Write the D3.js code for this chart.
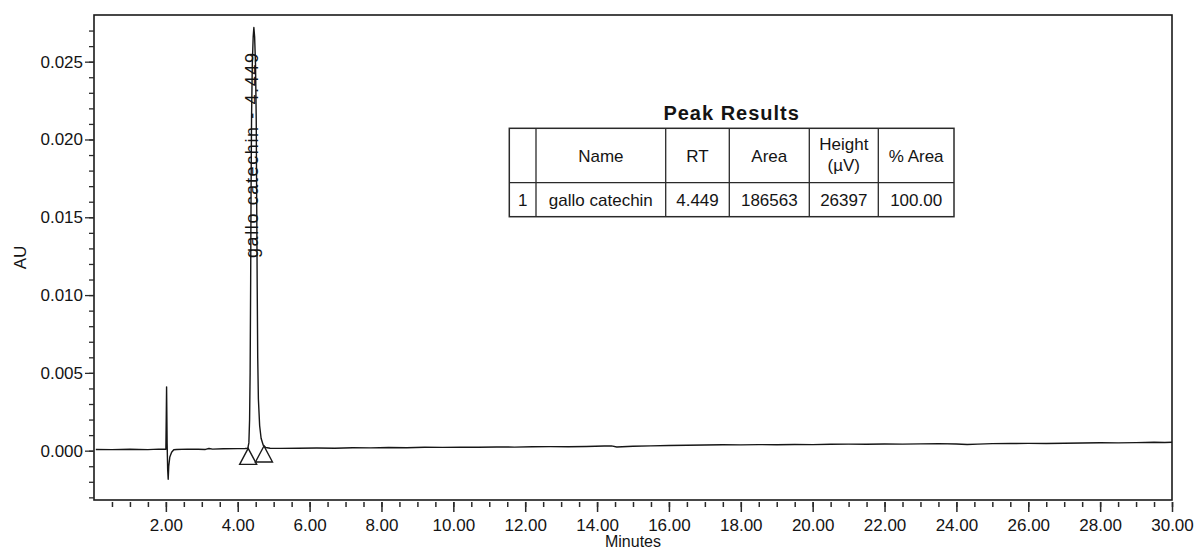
<!DOCTYPE html>
<html>
<head>
<meta charset="utf-8">
<script src="https://cdn.jsdelivr.net/npm/d3@7"></script>
<style>
  html, body { margin: 0; padding: 0; background: #ffffff; }
  svg { display: block; }
  text { font-family: "Liberation Sans", Arial, sans-serif; fill: #141414; }
</style>
</head>
<body>
<svg id="chart" width="1198" height="550"></svg>
<script>
// ---------------- DATA ----------------
// Baseline (minutes, AU)
const baselineTimes = [0.05,0.5,1.0,1.5,1.8,1.95,
  2.3,2.6,2.9,3.1,3.2,3.3,3.6,4.0,4.2,
  4.9,5.2,5.7,6.2,6.7,7.2,7.7,8.2,8.7,9.2,9.7,10.2,10.7,11.2,11.7,12.2,12.7,13.2,13.7,
  14.2,14.4,14.55,14.7,15.0,15.5,16.0,16.5,17.0,17.5,18.0,18.5,19.0,19.5,20.0,20.5,
  21.0,21.5,22.0,22.5,23.0,23.5,24.0,24.3,24.6,25.0,25.5,26.0,26.5,27.0,27.5,28.0,
  28.5,29.0,29.5,29.8,30.0];
const baselineAU = [0.00008,0.00007,0.00009,0.00007,0.00010,0.00009,
  0.00008,0.00010,0.00009,0.00008,0.00014,0.00010,0.00012,0.00013,0.00014,
  0.00016,0.00015,0.00016,0.00017,0.00016,0.00019,0.00018,0.00020,0.00019,0.00022,0.00021,0.00023,0.00022,0.00024,0.00023,0.00025,0.00026,0.00025,0.00027,
  0.00030,0.00031,0.00024,0.00025,0.00028,0.00031,0.00033,0.00035,0.00036,0.00038,0.00037,0.00039,0.00038,0.00040,0.00039,0.00041,
  0.00042,0.00041,0.00043,0.00042,0.00044,0.00045,0.00043,0.00040,0.00042,0.00045,0.00046,0.00047,0.00046,0.00048,0.00049,0.00051,
  0.00050,0.00052,0.00054,0.00053,0.00054];

// Injection disturbance near 2 min
const spikeTimes = [2.00,2.01,2.02,2.035,2.05,2.065,2.08,2.11,2.16,2.22];
const spikeAU    = [0.00009,0.0020,0.0041,0.0005,-0.0012,-0.00184,-0.0010,-0.0004,-0.0001,0.00006];

// Gallo catechin peak
const peakTimes = [4.28,4.31,4.33,4.345,4.36,4.372,4.385,4.405,4.43,4.449,4.47,4.495,4.515,4.528,4.542,4.556,4.575,4.61,4.65,4.71,4.78];
const peakAU    = [0.00015,0.0005,0.0020,0.0050,0.0110,0.0170,0.0215,0.0248,0.0266,0.0272,0.0266,0.0248,0.0212,0.0160,0.0105,0.0060,0.0033,0.0016,0.0008,0.00035,0.00020];

// Peak start / end markers
const markerTimes = [4.29, 4.73];
const markerAU    = [0.00015, 0.00030];

const peakLabel = "gallo catechin - 4.449";
const peakLabelRT = 4.449;

// Axis ticks
const xMajorTicks = [2,4,6,8,10,12,14,16,18,20,22,24,26,28,30];
const yMajorTicks = [0.000,0.005,0.010,0.015,0.020,0.025];

// Table
const tableTitle = "Peak Results";
const tableHeader = ["", "Name", "RT", "Area", "Height\n(µV)", "% Area"];
const tableRows = [["1", "gallo catechin", "4.449", "186563", "26397", "100.00"]];

// Labels
const xTitle = "Minutes";
const yTitle = "AU";

// ---------------- LAYOUT ----------------
const svg = d3.select("#chart");
const plot = {left: 94, right: 1172, top: 15, bottom: 500};

const x = d3.scaleLinear().domain([0, 30]).range([plot.left, plot.right]);
const y = d3.scaleLinear().domain([-0.00317, 0.0280]).range([plot.bottom, plot.top]);

// Assemble the trace
const trace = [];
baselineTimes.forEach((t, i) => trace.push([t, baselineAU[i]]));
spikeTimes.forEach((t, i) => trace.push([t, spikeAU[i]]));
peakTimes.forEach((t, i) => trace.push([t, peakAU[i]]));
trace.sort((a, b) => a[0] - b[0]);

// Frame
svg.append("rect")
  .attr("x", plot.left).attr("y", plot.top)
  .attr("width", plot.right - plot.left).attr("height", plot.bottom - plot.top)
  .attr("fill", "none").attr("stroke", "#1a1a1a").attr("stroke-width", 1.6);

// Y axis: major and minor
const yMinor = d3.range(-0.003, 0.02701, 0.001);
const yMinorAxis = d3.axisLeft(y).tickValues(yMinor).tickSize(5).tickFormat("");
const yMajorAxis = d3.axisLeft(y).tickValues(yMajorTicks).tickSize(9).tickPadding(2)
  .tickFormat(d3.format(".3f"));
const gyMin = svg.append("g").attr("transform", `translate(${plot.left},0)`).call(yMinorAxis);
const gyMaj = svg.append("g").attr("transform", `translate(${plot.left},0)`).call(yMajorAxis);
[gyMin, gyMaj].forEach(g => {
  g.select(".domain").remove();
  g.selectAll(".tick line").attr("stroke", "#2a2a2a").attr("stroke-width", 1.3);
});
gyMaj.selectAll(".tick text")
  .style("font-family", '"Liberation Sans", Arial, sans-serif')
  .style("font-size", "17px").attr("fill", "#141414");

// X axis: ticks slightly detached below the frame
const xMinor = d3.range(0.5, 30.01, 0.5);
const xMinorAxis = d3.axisBottom(x).tickValues(xMinor).tickSize(5).tickFormat("");
const xMajorAxis = d3.axisBottom(x).tickValues(xMajorTicks).tickSize(10).tickPadding(7)
  .tickFormat(d3.format(".2f"));
const gxMin = svg.append("g").attr("transform", `translate(0,${plot.bottom + 2})`).call(xMinorAxis);
const gxMaj = svg.append("g").attr("transform", `translate(0,${plot.bottom + 2})`).call(xMajorAxis);
[gxMin, gxMaj].forEach(g => {
  g.select(".domain").remove();
  g.selectAll(".tick line").attr("stroke", "#2a2a2a").attr("stroke-width", 1.5);
});
gxMaj.selectAll(".tick text")
  .style("font-family", '"Liberation Sans", Arial, sans-serif')
  .style("font-size", "17px").attr("fill", "#141414");

// Axis titles
svg.append("text")
  .attr("x", (plot.left + plot.right) / 2).attr("y", 547)
  .attr("text-anchor", "middle").style("font-size", "16px")
  .text(xTitle);
svg.append("text")
  .attr("transform", `translate(26,${(plot.top + plot.bottom) / 2}) rotate(-90)`)
  .attr("text-anchor", "middle").style("font-size", "17px")
  .text(yTitle);

// Trace line
const line = d3.line().x(d => x(d[0])).y(d => y(d[1]));
svg.append("path")
  .datum(trace)
  .attr("d", line)
  .attr("fill", "none").attr("stroke", "#161616").attr("stroke-width", 1.4)
  .attr("stroke-linejoin", "round");

// Peak start/end triangles
const triW = 8.5, triH = 16;
svg.selectAll("path.marker")
  .data(markerTimes.map((t, i) => [t, markerAU[i]]))
  .join("path")
  .attr("class", "marker")
  .attr("d", d => {
    const px = x(d[0]), py = y(d[1]);
    return `M${px},${py} L${px - triW},${py + triH} L${px + triW},${py + triH} Z`;
  })
  .attr("fill", "none").attr("stroke", "#1a1a1a").attr("stroke-width", 1.4);

// Peak label (vertical)
svg.append("text")
  .attr("transform", `translate(${x(peakLabelRT) + 4.5},258) rotate(-90)`)
  .attr("text-anchor", "start")
  .attr("textLength", 205).attr("lengthAdjust", "spacing")
  .style("font-size", "18px").attr("fill", "#222")
  .text(peakLabel);

// ---------------- TABLE ----------------
const tbl = {left: 509.3, top: 128.3, headerH: 54.4, rowH: 34};
const colWidths = [26.7, 129.7, 63.6, 80, 69, 75.7];
const colX = [tbl.left];
colWidths.forEach((w, i) => colX.push(colX[i] + w));
const tblRight = colX[colX.length - 1];
const tblBottom = tbl.top + tbl.headerH + tbl.rowH * tableRows.length;

svg.append("text")
  .attr("x", (tbl.left + tblRight) / 2).attr("y", tbl.top - 8)
  .attr("text-anchor", "middle")
  .style("font-size", "20px").style("font-weight", "bold").style("letter-spacing", "1px")
  .text(tableTitle);

const tg = svg.append("g");
tg.append("rect")
  .attr("x", tbl.left).attr("y", tbl.top)
  .attr("width", tblRight - tbl.left).attr("height", tblBottom - tbl.top)
  .attr("fill", "none").attr("stroke", "#2a2a2a").attr("stroke-width", 1.5);
tg.selectAll("line.col")
  .data(colX.slice(1, -1))
  .join("line").attr("class", "col")
  .attr("x1", d => d).attr("x2", d => d)
  .attr("y1", tbl.top).attr("y2", tblBottom)
  .attr("stroke", "#2a2a2a").attr("stroke-width", 1.3);
tg.append("line")
  .attr("x1", tbl.left).attr("x2", tblRight)
  .attr("y1", tbl.top + tbl.headerH).attr("y2", tbl.top + tbl.headerH)
  .attr("stroke", "#2a2a2a").attr("stroke-width", 1.3);

tableHeader.forEach((h, i) => {
  const cx = (colX[i] + colX[i + 1]) / 2;
  const parts = h.split("\n");
  const t = tg.append("text").attr("text-anchor", "middle").style("font-size", "17px");
  if (parts.length === 1) {
    t.attr("x", cx).attr("y", tbl.top + 34).text(parts[0]);
  } else {
    parts.forEach((p, k) => {
      t.append("tspan").attr("x", cx).attr("y", tbl.top + 22 + k * 21).text(p);
    });
  }
});
tableRows.forEach((row, r) => {
  row.forEach((v, i) => {
    const cx = (colX[i] + colX[i + 1]) / 2;
    tg.append("text")
      .attr("x", cx).attr("y", tbl.top + tbl.headerH + r * tbl.rowH + 23)
      .attr("text-anchor", "middle").style("font-size", "17px")
      .text(v);
  });
});
</script>
</body>
</html>
